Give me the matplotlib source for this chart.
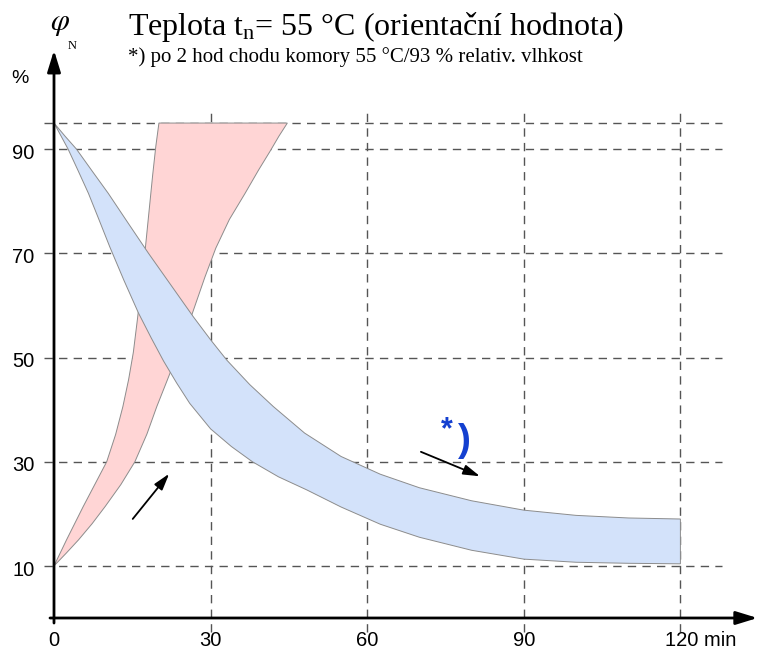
import numpy as np
import matplotlib.pyplot as plt

plt.rcParams['mathtext.fontset'] = 'custom'
plt.rcParams['mathtext.rm'] = 'Liberation Serif'
plt.rcParams['mathtext.it'] = 'Liberation Serif:italic'

# red band (rising) - left and right edges, bottom to top
red_left_x = [0, 1.2, 2.4, 4.0, 5.6, 7.8, 10.1, 11.8, 13.2, 14.3, 15.2, 16.0, 16.8, 17.5, 18.2, 18.9, 19.5, 20.1]
red_left_y = [10, 12.5, 15, 18.2, 21.4, 25.6, 30, 35.2, 40.6, 45.8, 51, 57.5, 64.5, 71, 78, 85, 90.5, 95]
red_right_x = [0, 2.3, 4.7, 7.3, 9.8, 12.8, 15.5, 17.8, 19.7, 21.6, 23.4, 25.3, 27.1, 28.9, 31.0, 33.6, 36.6,
               39.2, 41.4, 43.1, 44.7]
red_right_y = [10, 12.4, 15, 18.1, 21.4, 25.6, 30, 35.3, 40.6, 45.4, 50, 55, 60.2, 65.4, 71, 76.5, 81.5,
               86, 89.6, 92.5, 95]

# blue band (falling) - upper and lower edges
blue_up_x = [0, 2.1, 4.3, 7.3, 10.4, 14.2, 18.1, 22.4, 26.7, 30, 33.1, 37.5, 42, 48, 55, 62.5, 70, 80, 90, 100, 110, 120]
blue_up_y = [95, 92.5, 90, 85.8, 81.5, 75.8, 70, 63.9, 57.8, 53.4, 49.5, 44.8, 40.6, 35.5, 31, 27.6, 25, 22.5, 20.7, 19.7, 19.2, 19]
blue_lo_x = [0, 1.3, 2.7, 4.6, 6.6, 8.6, 10.7, 13.4, 16.2, 18.6, 21, 23.5, 26, 30, 34, 38, 43, 48.4, 55, 62.5, 70, 80, 90, 100, 110, 120]
blue_lo_y = [95, 92.6, 90, 85.9, 81.5, 76.5, 71.2, 64.8, 58.5, 53.8, 49.3, 45.1, 41.2, 36.3, 32.9, 30, 27.1, 24.6, 21.3, 18, 15.5, 13, 11.3, 10.7, 10.5, 10.4]

y_grid = [10, 30, 50, 70, 90, 95]
y_ticks = [10, 30, 50, 70, 90]
x_grid = [30, 60, 90, 120]
x_labels = ['0', '30', '60', '90', '120 min']
x_label_pos = [0, 30, 60, 90, 123.8]

fig = plt.figure(figsize=(7.74, 6.5), dpi=100)
ax = fig.add_axes([0, 0, 1, 1])
ax.set_xlim(-54 / 5.22, 720 / 5.22)
ax.set_ylim(-32 / 5.21, 618 / 5.21)
ax.axis('off')

# grid
for y in y_grid:
    ax.plot([-1.9, 128], [y, y], color='#555555', lw=1.0, ls=(0, (6, 4.5)), zorder=1)
for x in x_grid:
    ax.plot([x, x], [-2.7, 98], color='#555555', lw=1.0, ls=(0, (6, 4.5)), zorder=1)

# bands
ax.fill(red_left_x + red_right_x[::-1], red_left_y + red_right_y[::-1],
        facecolor='#ffd5d5', edgecolor='#8c8c8c', lw=0.7, zorder=2)
ax.fill(blue_up_x + blue_lo_x[::-1], blue_up_y + blue_lo_y[::-1],
        facecolor='#d3e2fa', edgecolor='#8c8c8c', lw=0.7, zorder=3)

# axes with arrows
ax.annotate('', xy=(0, 109.5), xytext=(0, -1.5),
            arrowprops=dict(arrowstyle='-|>,head_length=1.3,head_width=0.4', lw=2, color='black'), zorder=5)
ax.annotate('', xy=(135.3, 0), xytext=(-1.3, 0),
            arrowprops=dict(arrowstyle='-|>,head_length=1.3,head_width=0.4', lw=2, color='black'), zorder=5)

# direction arrows
ax.annotate('', xy=(22.4, 28.1), xytext=(14.75, 18.6),
            arrowprops=dict(arrowstyle='-|>,head_length=1.0,head_width=0.3', lw=1.3, color='black'), zorder=5)
ax.annotate('', xy=(82.1, 27.0), xytext=(69.8, 32.1),
            arrowprops=dict(arrowstyle='-|>,head_length=1.0,head_width=0.3', lw=1.3, color='black'), zorder=5)
ax.text(75.3, 36.1, '*', color='#1440d0', fontsize=22, fontweight='bold',
        family='Liberation Sans', ha='center', va='center', zorder=6)
ax.text(78.6, 34.0, ')', color='#1440d0', fontsize=28, fontweight='bold',
        family='Liberation Sans', ha='center', va='center', zorder=6)

# tick labels
for y in y_ticks:
    ax.text(-3.7, y - 0.8, str(y), ha='right', va='center', fontsize=14.5, family='Liberation Sans')
for x, lab in zip(x_label_pos, x_labels):
    ax.text(x, -4.3, lab, ha='center', va='center', fontsize=14.5, family='Liberation Sans')
ax.text(-6.5, 103.6, '%', ha='center', va='center', fontsize=14, family='Liberation Sans')

# axis symbol
ax.text(1.2, 114.2, r'$\varphi$', ha='center', va='center', fontsize=22, math_fontfamily='stix')
ax.text(3.4, 109.8, 'N', ha='center', va='center', fontsize=9, family='Liberation Serif')

# titles
ax.text(14.2, 111.9, r'Teplota t$_\mathrm{n}$= 55 °C (orientační hodnota)', ha='left', va='baseline',
        fontsize=23, family='Liberation Serif')
ax.text(14.2, 106.7, '*) po 2 hod chodu komory 55 °C/93 % relativ. vlhkost', ha='left', va='baseline',
        fontsize=15, family='Liberation Serif')

fig.savefig('out.png', dpi=100)
